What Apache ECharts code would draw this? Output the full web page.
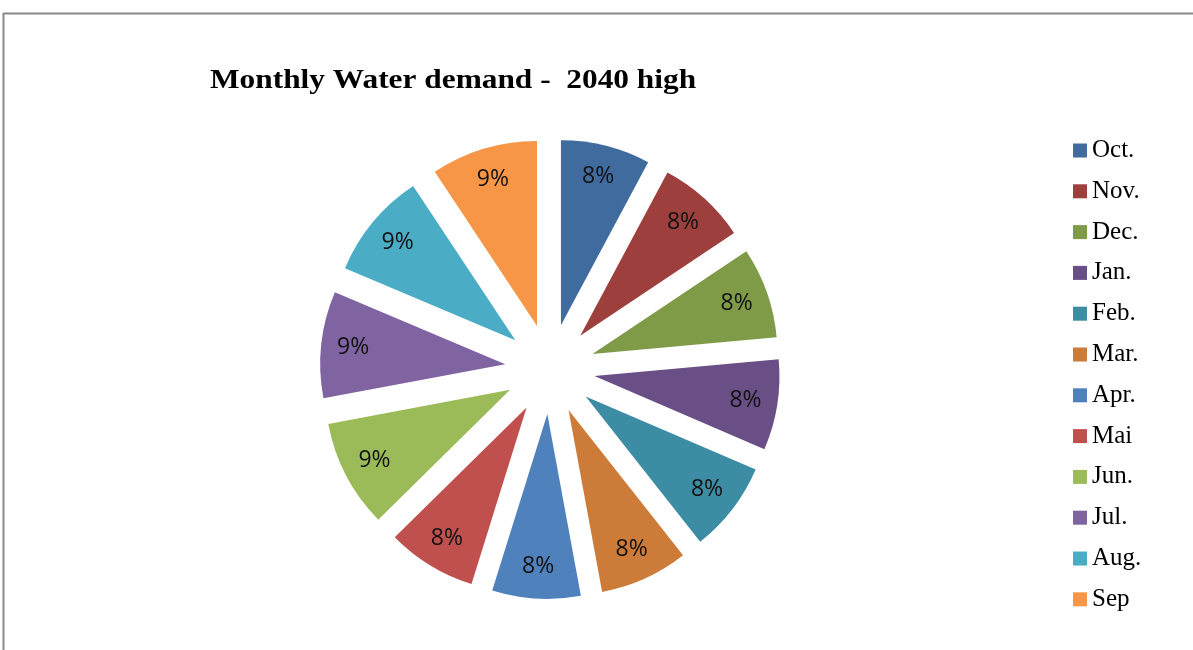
<!DOCTYPE html>
<html>
<head>
<meta charset="utf-8">
<title>Monthly Water demand - 2040 high</title>
<script src="https://cdn.jsdelivr.net/npm/echarts@6/dist/echarts.min.js"></script>
<style>
  html, body { margin: 0; padding: 0; background: #ffffff; }
  #chart { width: 1193px; height: 650px; }
</style>
</head>
<body>
<div id="chart"></div>
<script>
// Months of the water year, October to September
const months = ['Oct.', 'Nov.', 'Dec.', 'Jan.', 'Feb.', 'Mar.', 'Apr.', 'Mai', 'Jun.', 'Jul.', 'Aug.', 'Sep'];
// Share of annual water demand per month (%)
const demand = [7.8, 7.8, 7.9, 7.9, 7.9, 7.7, 7.7, 7.8, 9.4, 9.3, 9.3, 9.3];
// Slice colours
const colors = ['#3F6B9E', '#9C3F3D', '#7F9B48', '#6A4F87', '#3C8CA3', '#CC7B39',
                '#4F81BD', '#C0504D', '#9BBB59', '#8064A2', '#4BACC6', '#F79646'];
const chartTitle = 'Monthly Water demand -  2040 high';

const chart = echarts.init(document.getElementById('chart'), null, { renderer: 'canvas' });

const center = [550, 369];
const explode = 45;

const sliceData = months.map((m, i) => ({
  name: m,
  value: demand[i],
  selected: true,
  itemStyle: { color: colors[i] }
}));

// Transparent ring carrying the percentage labels further out in each slice
const labelData = months.map((m, i) => ({
  name: m,
  value: demand[i],
  selected: true,
  itemStyle: { color: 'rgba(0,0,0,0)' }
}));

chart.setOption({
  animation: false,
  legend: {
    orient: 'vertical',
    left: 1073,
    top: 138,
    padding: 0,
    icon: 'rect',
    itemWidth: 14,
    itemHeight: 14,
    itemGap: 15.8,
    data: months,
    selectedMode: false,
    textStyle: {
      fontFamily: 'Liberation Serif',
      fontSize: 25,
      lineHeight: 24,
      color: '#000000',
      padding: [0, 0, 0, 0]
    }
  },
  graphic: [
    { type: 'line', shape: { x1: 3, y1: 13.5, x2: 1193, y2: 13.5 }, style: { stroke: '#8a8a8a', lineWidth: 2 } },
    { type: 'line', shape: { x1: 3.5, y1: 13, x2: 3.5, y2: 650 }, style: { stroke: '#8a8a8a', lineWidth: 2 } },
    {
      type: 'text',
      x: 210,
      y: 95,
      scaleX: 1.12,
      style: {
        text: chartTitle,
        fontFamily: 'Liberation Serif',
        fontWeight: 'bold',
        fontSize: 28,
        fill: '#000000',
        textVerticalAlign: 'bottom',
        verticalAlign: 'bottom'
      }
    }
  ],
  series: [
    {
      type: 'pie',
      name: 'demand',
      center: center,
      radius: [0, 185],
      startAngle: 90,
      clockwise: true,
      selectedMode: 'multiple',
      selectedOffset: explode,
      avoidLabelOverlap: false,
      label: { show: false },
      labelLine: { show: false },
      emphasis: { disabled: true },
      silent: true,
      data: sliceData
    },
    {
      type: 'pie',
      name: 'labels',
      center: center,
      radius: [116, 184],
      startAngle: 90,
      clockwise: true,
      selectedMode: 'multiple',
      selectedOffset: explode,
      avoidLabelOverlap: false,
      percentPrecision: 0,
      legendHoverLink: false,
      silent: true,
      emphasis: { disabled: true },
      label: {
        show: true,
        position: 'inside',
        formatter: '{d}%',
        fontFamily: 'Open Sans',
        fontSize: 23,
        color: '#111111'
      },
      labelLine: { show: false },
      data: labelData
    }
  ]
});
</script>
</body>
</html>
